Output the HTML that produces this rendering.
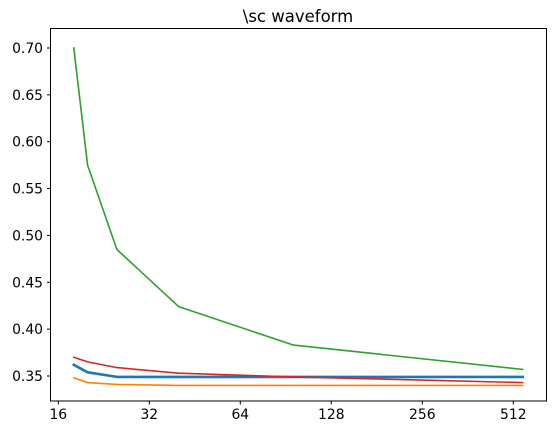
<!DOCTYPE html>
<html><head><meta charset="utf-8"><style>
body{margin:0;background:#fff;}
svg text{font-family:"DejaVu Sans","Liberation Sans",sans-serif;fill:#000;}
</style></head><body>
<svg id="chart" width="556" height="435" viewBox="0 0 556 435" xmlns="http://www.w3.org/2000/svg">
<text x="298" y="22" font-size="16.5" text-anchor="middle">\sc waveform</text>
<g id="plot"></g>
<rect x="50.5" y="28.5" width="496" height="372.5" fill="none" stroke="#000" stroke-width="1"/>
</svg>
<script>
const xs = [18, 20, 25, 40, 96, 550];
const greenVals = [0.700, 0.575, 0.485, 0.424, 0.383, 0.357];
const redVals = [0.370, 0.365, 0.359, 0.353, 0.349, 0.343];
const blueVals = [0.362, 0.354, 0.349, 0.349, 0.349, 0.349];
const orangeVals = [0.348, 0.343, 0.341, 0.340, 0.340, 0.340];
const xTicks = [16, 32, 64, 128, 256, 512];
const yTicks = [0.35, 0.40, 0.45, 0.50, 0.55, 0.60, 0.65, 0.70];

const NS = 'http://www.w3.org/2000/svg';
const g = document.getElementById('plot');
function xScale(v){ return 58.3 + Math.log2(v/16) * 91; }
function yScale(v){ return 376 - (v - 0.35) / 0.05 * 46.86; }
function mk(tag, attrs){ const e = document.createElementNS(NS, tag); for (const k in attrs) e.setAttribute(k, attrs[k]); g.appendChild(e); return e; }

xTicks.forEach(t => {
  const x = xScale(t);
  const l = mk('line', {x1:x, x2:x, y1:401, y2:404.5, stroke:'#000', 'stroke-width':1});
  
  
  const tx = mk('text', {x:x, y:419, 'font-size':13.9, 'text-anchor':'middle'});
  tx.textContent = t;
  
  
});
yTicks.forEach(t => {
  const y = yScale(t);
  const l = mk('line', {x1:47, x2:50.5, y1:y, y2:y, stroke:'#000', 'stroke-width':1});
  
  
  const tx = mk('text', {x:43, y:y+5, 'font-size':13.9, 'text-anchor':'end'});
  tx.textContent = t.toFixed(2);
  
  
});
function series(vals, color, w, name){
  const pts = vals.map((v,i) => xScale(xs[i]).toFixed(1) + ',' + yScale(v).toFixed(1)).join(' ');
  const p = mk('polyline', {points:pts, fill:'none', stroke:color, 'stroke-width':w, 'stroke-linejoin':'round', 'stroke-linecap':'square'});
  
  
}
series(greenVals, '#2ca02c', 1.6, 'green-series-line');
series(orangeVals, '#ff7f0e', 1.6, 'orange-series-line');
series(blueVals, '#1f77b4', 2.6, 'blue-series-line');
series(redVals, '#d62728', 1.6, 'red-series-line');
</script>
</body></html>
